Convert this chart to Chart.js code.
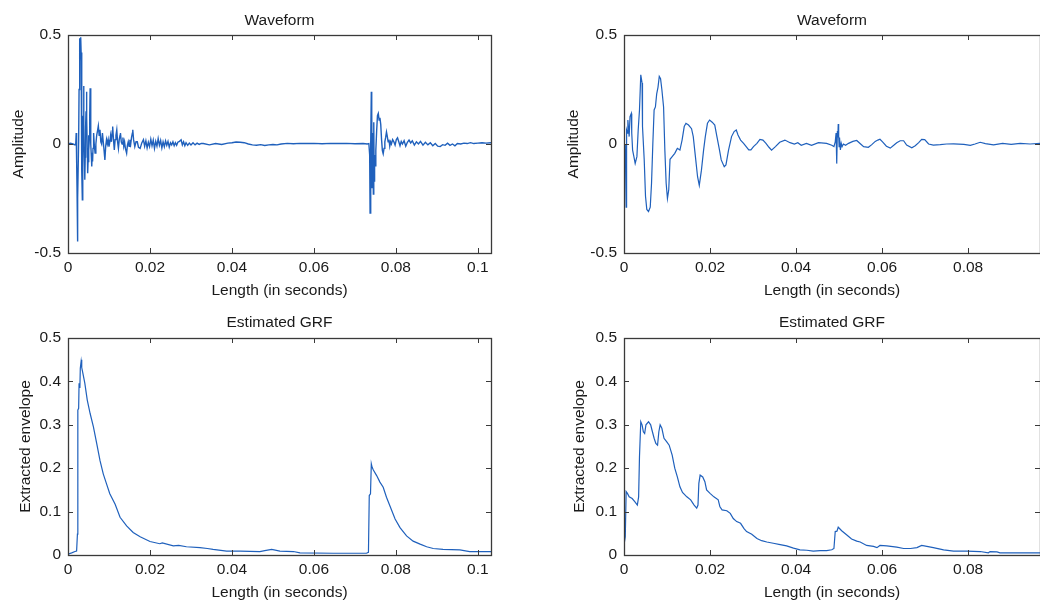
<!DOCTYPE html>
<html>
<head>
<meta charset="utf-8">
<script src="https://cdn.jsdelivr.net/npm/chart.js@4/dist/chart.umd.min.js"></script>
<style>
body { margin: 0; background: #fff; width: 1040px; height: 602px; overflow: hidden; position: relative; }
canvas { position: absolute; }
</style>
</head>
<body>
<canvas id="c1" width="520" height="300" style="left:0;top:0"></canvas>
<canvas id="c2" width="500" height="300" style="left:540px;top:0"></canvas>
<canvas id="c3" width="520" height="302" style="left:0;top:300px"></canvas>
<canvas id="c4" width="500" height="302" style="left:540px;top:300px"></canvas>
<script>
// tick values
const xTicksLeft = [0, 0.02, 0.04, 0.06, 0.08, 0.1];
const xTicksRight = [0, 0.02, 0.04, 0.06, 0.08];
const waveTicks = [-0.5, 0, 0.5];
const envTicks = [0, 0.1, 0.2, 0.3, 0.4, 0.5];

// [time (s), amplitude]
const wave1 = [
  [0.0000, 0.000], [0.0006, 0.004], [0.0012, 0.000], [0.0017, -0.004], [0.0019, 0.002],
  [0.0020, 0.050], [0.0021, -0.070], [0.0022, -0.200], [0.0023, -0.447], [0.0024, -0.250],
  [0.0026, 0.020], [0.0027, 0.250], [0.0028, 0.485], [0.0029, 0.380], [0.0030, 0.470],
  [0.0031, 0.490], [0.0032, 0.420], [0.0033, 0.150], [0.0034, -0.120], [0.0035, -0.256],
  [0.0036, -0.110], [0.0037, 0.130], [0.0038, 0.266], [0.0039, 0.090], [0.0040, -0.060],
  [0.0041, -0.164], [0.0042, -0.060], [0.0043, 0.080], [0.0044, 0.150], [0.0045, 0.240],
  [0.0046, 0.120], [0.0047, -0.020], [0.0048, -0.134], [0.0049, -0.080], [0.0050, 0.040],
  [0.0051, -0.030], [0.0052, 0.020], [0.0053, 0.130], [0.0054, 0.256], [0.0055, 0.150],
  [0.0056, 0.000], [0.0057, -0.060], [0.0058, -0.103], [0.0059, -0.040], [0.0060, -0.080],
  [0.0061, -0.020], [0.0062, 0.030], [0.0063, 0.050], [0.0064, 0.000], [0.0066, -0.042],
  [0.0068, 0.000], [0.0070, 0.040], [0.0072, 0.060], [0.0074, 0.083], [0.0076, 0.040],
  [0.0078, 0.065], [0.0080, 0.010], [0.0082, 0.000], [0.0084, 0.050], [0.0086, 0.010],
  [0.0088, -0.030], [0.0090, -0.073], [0.0092, -0.010], [0.0094, 0.020], [0.0096, 0.000],
  [0.0098, 0.020], [0.0100, -0.012], [0.0102, 0.010], [0.0104, 0.040], [0.0106, 0.010],
  [0.0108, 0.060], [0.0109, 0.080], [0.0111, 0.020], [0.0113, -0.027], [0.0115, 0.020],
  [0.0117, 0.040], [0.0119, 0.065], [0.0121, 0.010], [0.0123, -0.020], [0.0125, 0.020],
  [0.0127, 0.040], [0.0128, 0.050], [0.0130, 0.010], [0.0132, 0.000], [0.0134, 0.030],
  [0.0136, -0.010], [0.0138, 0.010], [0.0140, -0.020], [0.0143, -0.042], [0.0145, -0.005],
  [0.0147, 0.010], [0.0149, -0.010], [0.0151, 0.020], [0.0153, 0.000], [0.0155, 0.030],
  [0.0157, 0.050], [0.0158, 0.065], [0.0160, 0.020], [0.0163, -0.012], [0.0166, 0.010],
  [0.0169, 0.010], [0.0172, -0.015], [0.0176, -0.020], [0.0180, 0.005], [0.0184, 0.020],
  [0.0187, -0.010], [0.0190, 0.015], [0.0193, -0.018], [0.0196, 0.008], [0.0199, -0.012],
  [0.0202, 0.022], [0.0205, -0.008], [0.0208, 0.018], [0.0211, -0.020], [0.0214, 0.012],
  [0.0217, -0.010], [0.0220, 0.025], [0.0223, -0.006], [0.0226, 0.016], [0.0229, -0.018],
  [0.0232, 0.010], [0.0235, -0.012], [0.0238, 0.014], [0.0241, -0.006], [0.0244, 0.012],
  [0.0247, -0.014], [0.0250, 0.006], [0.0253, -0.004], [0.0256, 0.010], [0.0259, -0.008],
  [0.0262, 0.006], [0.0265, -0.006], [0.0268, 0.008], [0.0272, 0.012], [0.0276, 0.019],
  [0.0279, -0.004], [0.0282, 0.010], [0.0285, -0.008], [0.0288, 0.006], [0.0292, -0.006],
  [0.0296, 0.004], [0.0300, -0.004], [0.0305, 0.006], [0.0310, -0.004], [0.0315, 0.004],
  [0.0320, -0.002], [0.0325, 0.003], [0.0330, 0.002], [0.0345, -0.004], [0.0360, 0.002],
  [0.0375, -0.002], [0.0390, 0.004], [0.0400, 0.006], [0.0410, 0.009], [0.0420, 0.008],
  [0.0430, 0.006], [0.0440, 0.000], [0.0450, -0.004], [0.0460, -0.006], [0.0470, -0.003],
  [0.0480, -0.007], [0.0490, -0.004], [0.0500, -0.002], [0.0510, -0.004], [0.0520, 0.000],
  [0.0535, 0.003], [0.0550, 0.001], [0.0565, 0.003], [0.0580, 0.002], [0.0600, 0.003],
  [0.0620, 0.001], [0.0640, 0.003], [0.0660, 0.002], [0.0680, 0.003], [0.0700, 0.001],
  [0.0720, 0.002], [0.0730, 0.000], [0.0734, 0.002], [0.0736, -0.050], [0.0737, -0.317],
  [0.0738, -0.300], [0.0739, 0.000], [0.0740, 0.240], [0.0741, 0.150], [0.0742, -0.200],
  [0.0743, -0.080], [0.0744, 0.050], [0.0745, -0.230], [0.0746, 0.100], [0.0747, -0.170],
  [0.0748, -0.050], [0.0749, -0.100], [0.0751, -0.030], [0.0753, 0.060], [0.0755, 0.130],
  [0.0757, 0.140], [0.0759, 0.110], [0.0761, 0.120], [0.0763, 0.090], [0.0765, 0.020],
  [0.0767, -0.030], [0.0769, -0.045], [0.0771, -0.020], [0.0773, 0.010], [0.0775, 0.030],
  [0.0777, 0.055], [0.0779, 0.035], [0.0781, 0.010], [0.0783, 0.020], [0.0785, -0.010],
  [0.0787, 0.010], [0.0789, 0.000], [0.0792, 0.020], [0.0795, 0.010], [0.0798, -0.005],
  [0.0801, 0.020], [0.0804, 0.028], [0.0807, 0.010], [0.0810, -0.008], [0.0813, 0.012],
  [0.0816, 0.000], [0.0820, 0.015], [0.0824, -0.010], [0.0828, 0.008], [0.0832, 0.018],
  [0.0836, 0.005], [0.0840, 0.015], [0.0845, -0.005], [0.0850, 0.010], [0.0855, 0.000],
  [0.0860, 0.012], [0.0866, -0.005], [0.0872, 0.008], [0.0878, -0.004], [0.0884, 0.006],
  [0.0890, -0.008], [0.0896, 0.002], [0.0902, -0.010], [0.0908, -0.012], [0.0914, -0.003],
  [0.0920, -0.006], [0.0926, 0.004], [0.0932, -0.006], [0.0938, 0.000], [0.0944, -0.008],
  [0.0950, 0.002], [0.0958, 0.000], [0.0966, 0.004], [0.0974, 0.002], [0.0982, 0.006],
  [0.0990, 0.002], [0.1000, 0.004], [0.1010, 0.006], [0.1020, 0.004], [0.1032, 0.006]
];

// right waveform
const wave2 = [
  [0.0000, -0.030], [0.0002, -0.060], [0.0003, 0.000], [0.0005, -0.290], [0.0006, 0.064],
  [0.0008, 0.050], [0.0009, 0.110], [0.0011, 0.060], [0.0012, 0.034], [0.0014, 0.125],
  [0.0017, 0.140], [0.0018, 0.050], [0.0020, -0.028], [0.0023, -0.058], [0.0026, -0.089],
  [0.0030, -0.058], [0.0033, 0.064], [0.0036, 0.156], [0.0039, 0.317], [0.0042, 0.280],
  [0.0043, 0.080], [0.0047, -0.073], [0.0050, -0.240], [0.0053, -0.300], [0.0057, -0.310],
  [0.0061, -0.290], [0.0064, -0.180], [0.0067, 0.000], [0.0070, 0.156], [0.0073, 0.170],
  [0.0076, 0.230], [0.0079, 0.260], [0.0082, 0.310], [0.0085, 0.300], [0.0088, 0.250],
  [0.0092, 0.170], [0.0095, -0.030], [0.0098, -0.180], [0.0101, -0.250], [0.0104, -0.210],
  [0.0107, -0.070], [0.0112, -0.058], [0.0118, -0.043], [0.0124, -0.020], [0.0130, -0.028],
  [0.0135, 0.018], [0.0140, 0.080], [0.0144, 0.095], [0.0150, 0.087], [0.0157, 0.070],
  [0.0161, 0.034], [0.0166, -0.058], [0.0171, -0.150], [0.0175, -0.190], [0.0180, -0.120],
  [0.0185, -0.028], [0.0189, 0.034], [0.0194, 0.095], [0.0199, 0.110], [0.0205, 0.100],
  [0.0211, 0.087], [0.0216, 0.034], [0.0222, -0.028], [0.0226, -0.073], [0.0233, -0.104],
  [0.0237, -0.096], [0.0243, -0.028], [0.0250, 0.034], [0.0256, 0.057], [0.0261, 0.064],
  [0.0265, 0.041], [0.0271, 0.018], [0.0278, 0.003], [0.0284, -0.012], [0.0290, -0.027],
  [0.0295, -0.027], [0.0301, -0.012], [0.0309, 0.003], [0.0316, 0.021], [0.0323, 0.018],
  [0.0330, 0.003], [0.0337, -0.015], [0.0343, -0.028], [0.0352, -0.012], [0.0362, 0.008],
  [0.0374, 0.018], [0.0386, 0.006], [0.0396, 0.000], [0.0404, 0.006], [0.0412, -0.006],
  [0.0424, 0.003], [0.0436, -0.006], [0.0452, 0.006], [0.0471, 0.003], [0.0483, -0.006],
  [0.0488, -0.012], [0.0491, 0.010], [0.0493, 0.050], [0.0494, -0.040], [0.0495, -0.090],
  [0.0496, 0.060], [0.0497, 0.030], [0.0498, 0.092], [0.0499, 0.040], [0.0500, -0.012],
  [0.0501, 0.030], [0.0503, -0.027], [0.0505, 0.003], [0.0507, -0.012], [0.0510, 0.000],
  [0.0515, -0.006], [0.0522, 0.003], [0.0532, 0.012], [0.0541, 0.016], [0.0550, 0.000],
  [0.0557, -0.012], [0.0568, -0.015], [0.0576, -0.003], [0.0584, 0.012], [0.0590, 0.018],
  [0.0595, 0.022], [0.0601, 0.010], [0.0610, -0.010], [0.0619, -0.019], [0.0627, -0.006],
  [0.0634, 0.006], [0.0642, 0.015], [0.0650, 0.015], [0.0657, -0.005], [0.0669, -0.017],
  [0.0677, -0.008], [0.0685, 0.006], [0.0692, 0.021], [0.0699, 0.020], [0.0708, 0.000],
  [0.0719, -0.005], [0.0735, -0.003], [0.0750, 0.000], [0.0766, 0.001], [0.0790, -0.002],
  [0.0805, -0.006], [0.0816, 0.000], [0.0828, 0.008], [0.0840, 0.002], [0.0859, -0.004],
  [0.0880, 0.003], [0.0900, -0.002], [0.0921, 0.003], [0.0944, 0.000], [0.0967, 0.003]
];

// left envelope
const env1 = [
  [0.0000, 0.000], [0.0003, 0.003], [0.0009, 0.005], [0.0017, 0.008], [0.0021, 0.009],
  [0.0023, 0.048], [0.0024, 0.334], [0.0026, 0.338], [0.0027, 0.396], [0.0029, 0.385],
  [0.0030, 0.430], [0.0032, 0.446], [0.0033, 0.450], [0.0034, 0.432], [0.0036, 0.420],
  [0.0041, 0.396], [0.0047, 0.357], [0.0054, 0.326], [0.0062, 0.295], [0.0070, 0.257],
  [0.0078, 0.218], [0.0086, 0.187], [0.0094, 0.164], [0.0102, 0.141], [0.0115, 0.117],
  [0.0127, 0.087], [0.0143, 0.067], [0.0159, 0.052], [0.0176, 0.042], [0.0200, 0.031],
  [0.0224, 0.026], [0.0230, 0.028], [0.0257, 0.021], [0.0270, 0.022], [0.0289, 0.019],
  [0.0322, 0.017], [0.0340, 0.015], [0.0354, 0.013], [0.0387, 0.009], [0.0420, 0.009],
  [0.0468, 0.008], [0.0480, 0.010], [0.0497, 0.013], [0.0517, 0.009], [0.0550, 0.008],
  [0.0566, 0.005], [0.0647, 0.004], [0.0728, 0.004], [0.0733, 0.006], [0.0735, 0.137],
  [0.0738, 0.141], [0.0740, 0.210], [0.0742, 0.202], [0.0745, 0.196], [0.0753, 0.183],
  [0.0761, 0.168], [0.0769, 0.156], [0.0777, 0.133], [0.0785, 0.114], [0.0798, 0.083],
  [0.0810, 0.063], [0.0826, 0.044], [0.0842, 0.032], [0.0859, 0.025], [0.0875, 0.019],
  [0.0891, 0.015], [0.0915, 0.013], [0.0956, 0.012], [0.0980, 0.008], [0.1032, 0.008]
];

// right envelope
const env2 = [
  [0.0000, 0.023], [0.0003, 0.042], [0.0005, 0.146], [0.0008, 0.142], [0.0012, 0.134],
  [0.0019, 0.130], [0.0025, 0.123], [0.0031, 0.115], [0.0034, 0.134], [0.0036, 0.227],
  [0.0039, 0.307], [0.0042, 0.300], [0.0045, 0.284], [0.0048, 0.280], [0.0051, 0.300],
  [0.0057, 0.307], [0.0062, 0.300], [0.0065, 0.288], [0.0070, 0.269], [0.0074, 0.257],
  [0.0078, 0.253], [0.0081, 0.284], [0.0084, 0.300], [0.0088, 0.292], [0.0093, 0.269],
  [0.0099, 0.261], [0.0105, 0.253], [0.0112, 0.230], [0.0118, 0.200], [0.0124, 0.180],
  [0.0130, 0.157], [0.0136, 0.144], [0.0146, 0.134], [0.0155, 0.127], [0.0163, 0.115],
  [0.0169, 0.108], [0.0172, 0.115], [0.0174, 0.165], [0.0177, 0.184], [0.0183, 0.180],
  [0.0188, 0.169], [0.0192, 0.150], [0.0200, 0.142], [0.0209, 0.134], [0.0219, 0.127],
  [0.0223, 0.111], [0.0228, 0.104], [0.0239, 0.102], [0.0247, 0.096], [0.0254, 0.084],
  [0.0262, 0.077], [0.0271, 0.073], [0.0279, 0.061], [0.0285, 0.054], [0.0297, 0.048],
  [0.0309, 0.038], [0.0320, 0.033], [0.0332, 0.030], [0.0347, 0.027], [0.0363, 0.024],
  [0.0378, 0.021], [0.0394, 0.016], [0.0409, 0.012], [0.0425, 0.011], [0.0440, 0.009],
  [0.0456, 0.010], [0.0471, 0.010], [0.0483, 0.012], [0.0488, 0.015], [0.0491, 0.054],
  [0.0495, 0.055], [0.0498, 0.064], [0.0506, 0.056], [0.0518, 0.046], [0.0529, 0.037],
  [0.0541, 0.032], [0.0549, 0.030], [0.0564, 0.022], [0.0580, 0.020], [0.0588, 0.017],
  [0.0595, 0.022], [0.0611, 0.021], [0.0634, 0.018], [0.0650, 0.015], [0.0666, 0.015],
  [0.0681, 0.017], [0.0692, 0.022], [0.0704, 0.020], [0.0719, 0.017], [0.0743, 0.012],
  [0.0766, 0.009], [0.0797, 0.009], [0.0828, 0.008], [0.0847, 0.005], [0.0851, 0.008],
  [0.0867, 0.007], [0.0874, 0.005], [0.0921, 0.005], [0.0967, 0.005]
];

const lineColor = 'rgb(31, 96, 188)';
const frameColor = '#3a3a3a';
const textColor = '#1a1a1a';
const font = { family: '"Liberation Sans", Arial, sans-serif', size: 15.5 };

// plain number labels like matlab: 0.1 not 0.10
const fmt = v => String(+Number(v).toFixed(4));

// matlab-style box with ticks pointing inward on all four sides
const boxTicks = {
  id: 'boxTicks',
  afterDraw(chart) {
    const { ctx, chartArea: a, scales: { x, y } } = chart;
    const len = 5;
    ctx.save();
    ctx.strokeStyle = frameColor;
    ctx.lineWidth = 1;
    ctx.beginPath();
    x.ticks.forEach(t => {
      const px = Math.round(x.getPixelForValue(t.value)) + 0.5;
      ctx.moveTo(px, a.bottom); ctx.lineTo(px, a.bottom - len);
      ctx.moveTo(px, a.top); ctx.lineTo(px, a.top + len);
    });
    y.ticks.forEach(t => {
      const py = Math.round(y.getPixelForValue(t.value)) + 0.5;
      ctx.moveTo(a.left, py); ctx.lineTo(a.left + len, py);
      ctx.moveTo(a.right, py); ctx.lineTo(a.right - len, py);
    });
    ctx.stroke();
    ctx.lineWidth = 1.3;
    ctx.strokeRect(Math.round(a.left) + 0.5, Math.round(a.top) + 0.5,
                   Math.round(a.width), Math.round(a.height));
    ctx.restore();
  }
};

function makeChart(id, points, o) {
  return new Chart(document.getElementById(id), {
    type: 'line',
    data: {
      datasets: [{
        data: points.map(p => ({ x: p[0], y: p[1] })),
        borderColor: lineColor,
        borderWidth: o.lw,
        pointRadius: 0,
        tension: 0,
        fill: false
      }]
    },
    options: {
      responsive: false,
      animation: false,
      layout: { padding: { left: 0, right: o.padRight, top: 0, bottom: 0 } },
      plugins: {
        legend: { display: false },
        tooltip: { enabled: false },
        title: {
          display: true, text: o.title, fullSize: false, color: textColor,
          font: { ...font, weight: 'normal' }, padding: o.titlePad
        }
      },
      scales: {
        x: {
          type: 'linear', min: 0, max: o.xMax,
          afterBuildTicks: s => { s.ticks = o.xTicks.map(v => ({ value: v })); },
          afterFit: s => { s.height = 47; },
          grid: { display: false, drawTicks: false },
          border: { display: false },
          ticks: { padding: 5, color: textColor, font, maxRotation: 0, callback: fmt },
          title: { display: true, text: 'Length (in seconds)', color: textColor, font, padding: { top: 0, bottom: 0 } }
        },
        y: {
          type: 'linear', min: o.yMin, max: 0.5,
          afterBuildTicks: s => { s.ticks = o.yTicks.map(v => ({ value: v })); },
          afterFit: s => { s.width = o.yWidth; },
          grid: { display: false, drawTicks: false },
          border: { display: false },
          ticks: { padding: 7, color: textColor, font, callback: fmt },
          title: { display: true, text: o.yLabel, color: textColor, font, padding: { top: o.yTitlePad, bottom: 0 } }
        }
      }
    },
    plugins: [boxTicks]
  });
}

makeChart('c1', wave1, {
  title: 'Waveform', titlePad: { top: 11, bottom: 5.4 }, xMax: 0.1032, xTicks: xTicksLeft,
  yMin: -0.5, yTicks: waveTicks, yLabel: 'Amplitude', yWidth: 68, yTitlePad: 9.5, padRight: 29, lw: 1.4
});
makeChart('c2', wave2, {
  title: 'Waveform', titlePad: { top: 11, bottom: 5.4 }, xMax: 0.0967, xTicks: xTicksRight,
  yMin: -0.5, yTicks: waveTicks, yLabel: 'Amplitude', yWidth: 84, yTitlePad: 24.5, padRight: 0, lw: 1.2
});
makeChart('c3', env1, {
  title: 'Estimated GRF', titlePad: { top: 13, bottom: 6.4 }, xMax: 0.1032, xTicks: xTicksLeft,
  yMin: 0, yTicks: envTicks, yLabel: 'Extracted envelope', yWidth: 68, yTitlePad: 16, padRight: 29, lw: 1.2
});
makeChart('c4', env2, {
  title: 'Estimated GRF', titlePad: { top: 13, bottom: 6.4 }, xMax: 0.0967, xTicks: xTicksRight,
  yMin: 0, yTicks: envTicks, yLabel: 'Extracted envelope', yWidth: 84, yTitlePad: 30, padRight: 0, lw: 1.2
});
</script>
</body>
</html>
